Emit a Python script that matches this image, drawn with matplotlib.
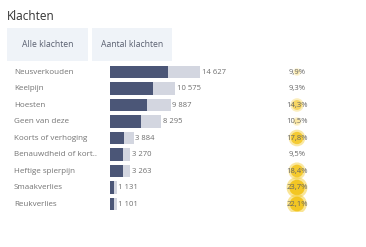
import matplotlib.pyplot as plt
from matplotlib.patches import Rectangle
from matplotlib.transforms import blended_transform_factory

# ----------------- Data -----------------
categories = ["Neusverkouden", "Keelpijn", "Hoesten", "Geen van deze",
              "Koorts of verhoging", "Benauwdheid of kort..", "Heftige spierpijn",
              "Smaakverlies", "Reukverlies"]
totals = [14627, 10575, 9887, 8295, 3884, 3270, 3263, 1131, 1101]
subset = [9400, 7000, 6000, 5000, 2300, 2100, 2100, 700, 650]
percent = [9.9, 9.3, 14.3, 10.5, 17.8, 9.5, 18.4, 23.7, 22.1]
tabs = ["Alle klachten", "Aantal klachten"]

plt.rcParams['font.family'] = ['Open Sans', 'DejaVu Sans']

W, H = 366, 247
fig = plt.figure(figsize=(W / 100, H / 100), dpi=100)
fig.patch.set_facecolor("white")

def fx(px):
    return px / W

def fy(py):
    return 1 - py / H

# ----------------- Header -----------------
fig.text(fx(7), fy(16), "Klachten", fontsize=8.5, color="#333333", va="center")

tab_boxes = [(7, 28, 81, 33), (92, 28, 80, 33)]
for (x, y, w, h), label in zip(tab_boxes, tabs):
    fig.patches.append(Rectangle((fx(x), fy(y + h)), w / W, h / H,
                                 transform=fig.transFigure, facecolor="#eff3f8",
                                 edgecolor="none"))
    fig.text(fx(x + w / 2), fy(y + h / 2), label, fontsize=6.2, color="#5a6070",
             ha="center", va="center")

# ----------------- Bars -----------------
n = len(categories)
row_h = 16.5
top_px = 72 - row_h / 2
bottom_px = top_px + row_h * n
left_px, right_px = 110, 240
px_per_unit = 90 / 14627

ax = fig.add_axes([fx(left_px), fy(bottom_px), (right_px - left_px) / W, (bottom_px - top_px) / H])
ax.set_xlim(0, (right_px - left_px) / px_per_unit)
ax.set_ylim(n - 0.5, -0.5)
ax.axis("off")

ypos = list(range(n))
ax.barh(ypos, totals, height=0.78, color="#d3d6e0")
ax.barh(ypos, subset, height=0.78, color="#4b5677")

for y, t in zip(ypos, totals):
    ax.text(t + 250, y, f"{t:,}".replace(",", " "), fontsize=5.5, color="#6e6e6e",
            va="center", ha="left")

trans = blended_transform_factory(fig.transFigure, ax.transData)
for y, c in zip(ypos, categories):
    ax.text(fx(14), y, c, transform=trans, fontsize=5.8, color="#747474",
            va="center", ha="left")

# ----------------- Percentages -----------------
pax = fig.add_axes([fx(277), fy(bottom_px), 40 / W, (bottom_px - top_px) / H])
pax.set_xlim(-1, 1)
pax.set_ylim(n - 0.5, -0.5)
pax.axis("off")

for y, p in zip(ypos, percent):
    strength = max(p - 9.6, 0) / 14
    if strength > 0:
        # soft glow: a wider faint disc under a denser core
        pax.scatter(0, y, s=(20 + 130 * strength) * 1.5, color="#f5cc30",
                    alpha=min(0.15 + 0.5 * strength, 0.5), edgecolors="none", zorder=1)
        pax.scatter(0, y, s=14 + 110 * strength, color="#f3c316",
                    alpha=min(0.2 + strength, 0.9), edgecolors="none", zorder=1)
    pax.text(0, y, f"{p:.1f}%".replace(".", ","), fontsize=5.5, color="#666666",
             ha="center", va="center", zorder=2)

fig.savefig("out.png", dpi=100)
